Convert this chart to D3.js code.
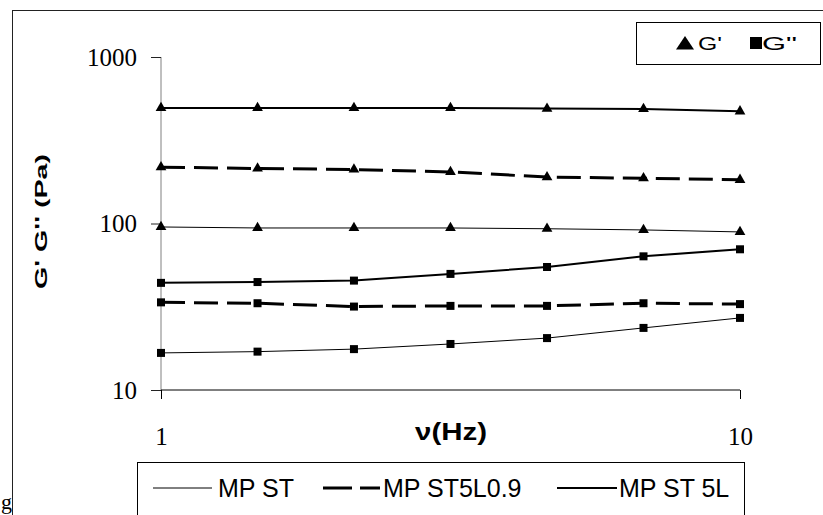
<!DOCTYPE html>
<html>
<head>
<meta charset="utf-8">
<script src="https://cdn.jsdelivr.net/npm/d3@7"></script>
<style>
  body { margin: 0; background: #fff; }
  svg { display: block; }
</style>
</head>
<body>
<svg id="chart" width="823" height="515"></svg>
<script>
const freq = [1, 1.468, 2.154, 3.162, 4.642, 6.813, 10]

const stGp = [95.3, 94, 94, 94, 93, 91.5, 89]
const st5l09Gp = [218, 214, 211, 204, 190, 187, 183]
const st5lGp = [494, 494, 494, 494, 490, 488, 472]

const stGpp = [16.7, 17.0, 17.6, 18.9, 20.5, 23.6, 27.1]
const st5l09Gpp = [33.6, 33.2, 31.7, 32, 32, 33.2, 32.8]
const st5lGpp = [44, 44.5, 45.4, 49.8, 54.8, 63.5, 70]

const yTicks = [10, 100, 1000]
const xTicks = [1, 10]

const series = [
  { name: 'MP ST', gp: stGp, gpp: stGpp, width: 1, dash: null },
  { name: 'MP ST5L0.9', gp: st5l09Gp, gpp: st5l09Gpp, width: 3, dash: '24,9' },
  { name: 'MP ST 5L', gp: st5lGp, gpp: st5lGpp, width: 2, dash: null }
]

const sans = 'Liberation Sans, Arial, sans-serif'
const serif = 'Liberation Serif, Times New Roman, serif'

const svg = d3.select('#chart')

// outer frame (only left/top visible)
svg.append('rect').attr('x', 12.5).attr('y', 10.5)
  .attr('width', 900).attr('height', 600)
  .attr('fill', 'none').attr('stroke', '#222')

svg.append('text').attr('x', 1).attr('y', 509)
  .attr('font-family', serif)
  .attr('font-size', 22).text('g')

const x = d3.scaleLog().domain([1, 10]).range([161, 740])
const y = d3.scaleLog().domain([10, 1000]).range([390, 57])

// y axis
const yAxis = svg.append('g').attr('transform', 'translate(161,0)')
  .call(d3.axisLeft(y).tickValues(yTicks).tickFormat(d3.format('d')).tickSize(10).tickPadding(14))
yAxis.select('.domain').attr('stroke', '#808080').attr('d', 'M0,57V390')
yAxis.selectAll('.tick line').attr('stroke', '#222')
yAxis.selectAll('.tick text')
  .attr('font-family', serif)
  .attr('font-size', 25).attr('fill', '#000')

// x axis
const xAxis = svg.append('g').attr('transform', 'translate(0,390)')
  .call(d3.axisBottom(x).tickValues(xTicks).tickFormat(d3.format('d')).tickSize(9).tickPadding(28))
xAxis.select('.domain').attr('stroke', '#000').attr('d', 'M161,0H740')
xAxis.selectAll('.tick text')
  .attr('font-family', serif)
  .attr('font-size', 25).attr('fill', '#000')

// axis titles (the source image is stretched along the text)
svg.append('text')
  .attr('transform', 'translate(47,222) rotate(-90)')
  .attr('x', -67)
  .attr('font-family', sans)
  .attr('font-weight', 'bold').attr('font-size', 17)
  .attr('textLength', 135).attr('lengthAdjust', 'spacingAndGlyphs')
  .text("G' G'' (Pa)")

svg.append('text').attr('x', 415).attr('y', 440)
  .attr('font-family', sans)
  .attr('font-weight', 'bold').attr('font-size', 24)
  .attr('textLength', 72).attr('lengthAdjust', 'spacingAndGlyphs')
  .text('ν(Hz)')

// lines
const line = d3.line().x(d => x(d[0])).y(d => y(d[1]))
const plot = svg.append('g')

series.forEach(s => {
  [s.gp, s.gpp].forEach(vals => {
    const pts = freq.map((f, i) => [f, vals[i]])
    plot.append('path').datum(pts)
      .attr('d', line)
      .attr('fill', 'none')
      .attr('stroke', '#000')
      .attr('stroke-width', s.width)
      .attr('stroke-dasharray', s.dash)
  })
})

const tri = d3.symbol().type(d3.symbolTriangle).size(50)
series.forEach(s => {
  plot.selectAll(null).data(freq.map((f, i) => [f, s.gp[i]]))
    .enter().append('path')
    .attr('d', tri)
    .attr('transform', d => `translate(${x(d[0])},${y(d[1])})`)
    .attr('fill', '#000')
  plot.selectAll(null).data(freq.map((f, i) => [f, s.gpp[i]]))
    .enter().append('rect')
    .attr('x', d => x(d[0]) - 4).attr('y', d => y(d[1]) - 4)
    .attr('width', 8).attr('height', 8)
    .attr('fill', '#000')
})

// top-right legend
const leg1 = svg.append('g')
leg1.append('rect').attr('x', 636.5).attr('y', 22.5).attr('width', 184).attr('height', 42)
  .attr('fill', '#fff').attr('stroke', '#000')
leg1.append('path').attr('d', 'M676,49.5L685,36L694,49.5Z')
leg1.append('text').attr('x', 698).attr('y', 49.5)
  .attr('font-family', sans).attr('font-size', 18.5)
  .attr('textLength', 24).attr('lengthAdjust', 'spacingAndGlyphs')
  .text("G'")
leg1.append('rect').attr('x', 750).attr('y', 37).attr('width', 12).attr('height', 12)
leg1.append('text').attr('x', 762).attr('y', 49.5)
  .attr('font-family', sans).attr('font-size', 18.5)
  .attr('textLength', 35).attr('lengthAdjust', 'spacingAndGlyphs')
  .text('G"')

// bottom legend
const leg2 = svg.append('g')
leg2.append('rect').attr('x', 137.5).attr('y', 462.5).attr('width', 607).attr('height', 80)
  .attr('fill', '#fff').attr('stroke', '#000')
const legPos = [
  { x0: 153, x1: 212, tx: 218 },
  { x0: 323, x1: 380, tx: 383 },
  { x0: 557, x1: 617, tx: 619 }
]
series.forEach((s, i) => {
  const p = legPos[i]
  leg2.append('line').attr('x1', p.x0).attr('x2', p.x1).attr('y1', 488).attr('y2', 488)
    .attr('stroke', '#000').attr('stroke-width', s.width)
    .attr('stroke-dasharray', s.dash ? '29,8' : null)
  leg2.append('text').attr('x', p.tx).attr('y', 497)
    .attr('font-family', sans).attr('font-size', 25)
    .text(s.name)
})
</script>
</body>
</html>
